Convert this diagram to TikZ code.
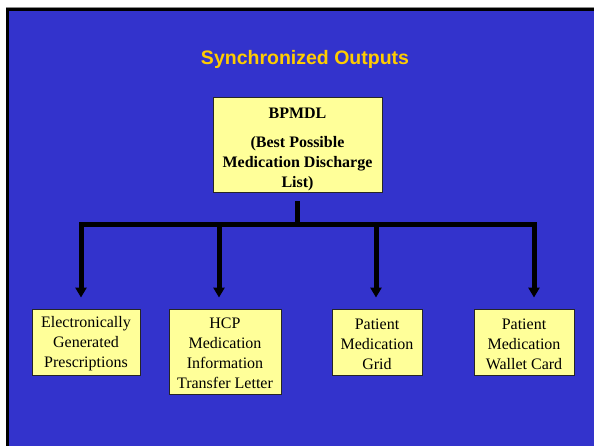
\documentclass[tikz,border=0pt]{standalone}
\usepackage{fontspec}
\setmainfont{Liberation Serif}
\newfontfamily\boxfont{Liberation Serif}
\newfontfamily\titlefont{Liberation Sans}
\usetikzlibrary{arrows.meta}
\definecolor{slideblue}{HTML}{3333CC}
\definecolor{boxyellow}{HTML}{FFFF99}
\definecolor{titlegold}{HTML}{FFCC00}
\begin{document}
\begin{tikzpicture}[x=1pt,y=-1pt,
  outbox/.style={draw=black!85, line width=0.9pt, fill=boxyellow, inner sep=0pt,
    align=center, font=\boxfont\fontsize{16}{20}\selectfont},
  bar/.style={line width=5pt},
  drop/.style={line width=5pt, -{Triangle[width=11pt,length=10pt]}, shorten >=11pt}]
\useasboundingbox (0,0) rectangle (594,446);
% slide frame
\fill[white] (0,0) rectangle (594,446);
\fill[black!45] (6,7.5) rectangle (594,8.5);
\fill[black] (6,8.5) rectangle (594,446);
\fill[slideblue] (9,11) rectangle (594,446);

% title
\node[font=\titlefont\bfseries\fontsize{19.5}{23}\selectfont, text=titlegold,
  anchor=base] (title) at (305,65) {Synchronized Outputs};

% source list
\node[outbox, minimum width=169pt, minimum height=95pt] (top) at (297.5,144.5)
  {\bfseries\rule{0pt}{21pt}BPMDL\\[9pt]\bfseries (Best Possible\\\bfseries Medication Discharge\\\bfseries List)};

% outputs
\node[outbox, minimum width=108pt, minimum height=66pt] (b1) at (86,342)
  {\rule{0pt}{15pt}Electronically\\Generated\\Prescriptions};
\node[outbox, minimum width=112pt, minimum height=85pt] (b2) at (225,351.5)
  {\rule{0pt}{15pt}HCP\\Medication\\Information\\Transfer Letter};
\node[outbox, minimum width=90pt, minimum height=66pt] (b3) at (377,342)
  {\rule{0pt}{15pt}Patient\\Medication\\Grid};
\node[outbox, minimum width=100pt, minimum height=66pt] (b4) at (524,342)
  {\rule{0pt}{15pt}Patient\\Medication\\Wallet Card};

% distribution bus
\coordinate (hub) at (297,225);
\coordinate (d1) at (81,225);
\coordinate (d2) at (219,225);
\coordinate (d3) at (376,225);
\coordinate (d4) at (534,225);
\draw[bar] ([yshift=-9pt]top.south -| hub) -- (hub);
\draw[bar, line cap=rect] (d1) -- (d4);
\draw[drop] (d1) -- (d1 |- b1.north);
\draw[drop] (d2) -- (d2 |- b2.north);
\draw[drop] (d3) -- (d3 |- b3.north);
\draw[drop] (d4) -- (d4 |- b4.north);
\end{tikzpicture}
\end{document}
